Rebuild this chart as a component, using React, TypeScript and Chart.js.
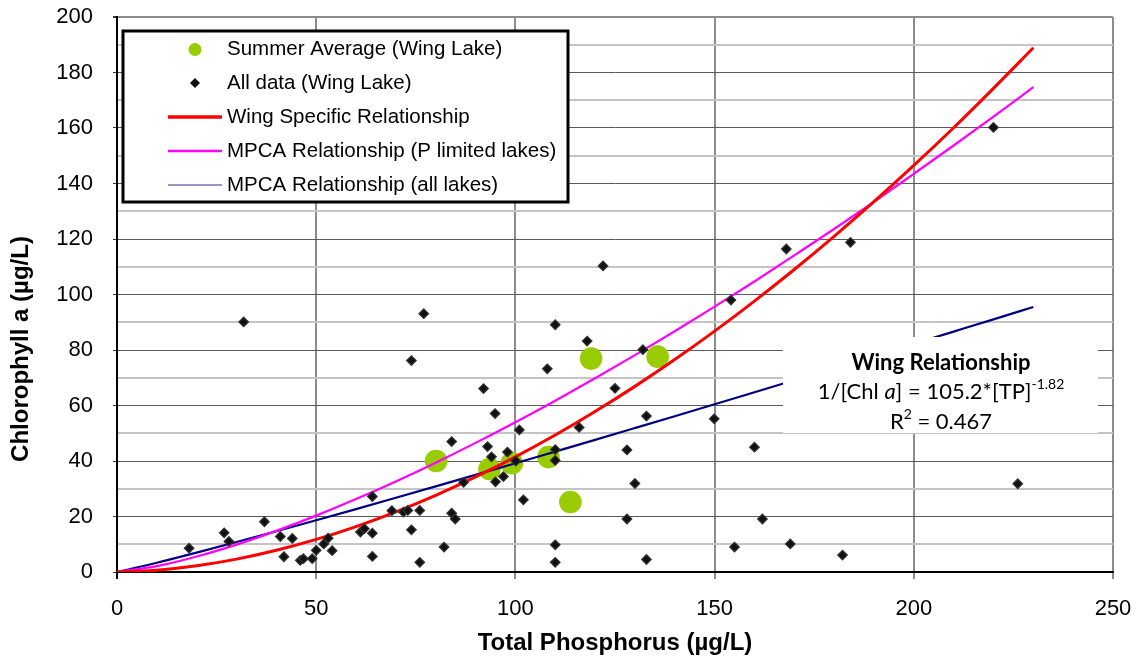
import React, { useEffect, useRef } from 'react';
import { Chart, registerables } from 'chart.js';

Chart.register(...registerables);

// ---------- data ----------
const summerTP = [80.1, 93.5, 99.1, 108.3, 113.8, 119.0, 135.7];
const summerChl = [40.0, 37.1, 39.2, 41.4, 25.2, 76.9, 77.6];

const allTP = [
  18.1, 26.9, 28.1, 31.8, 37.0, 41.0, 41.9, 44.0, 46.0, 46.8, 49.0, 50.0, 51.9, 53.0, 54.0,
  61.1, 62.1, 64.1, 64.1, 64.1, 69.0, 71.9, 73.0, 73.9, 73.9, 76.0, 76.0, 77.0, 82.1, 84.0,
  84.0, 84.9, 87.0, 92.0, 93.0, 94.0, 94.9, 95.0, 97.0, 98.0, 100.1, 101.0, 102.0, 108.0, 110.0,
  110.0, 110.0, 110.0, 110.0, 116.0, 118.0, 122.0, 125.0, 128.0, 128.0, 130.0, 132.0, 132.9, 132.9, 149.9,
  154.1, 155.0, 160.0, 162.0, 168.0, 169.0, 182.1, 184.1, 220.0, 226.1,
];
const allChl = [
  8.6, 14.1, 11.0, 90.1, 18.1, 12.8, 5.5, 12.1, 4.2, 4.8, 4.8, 7.8, 10.1, 12.2, 7.7,
  14.4, 15.6, 14.0, 27.2, 5.6, 22.1, 21.6, 22.2, 15.2, 76.2, 22.2, 3.5, 93.1, 9.0, 47.0,
  21.2, 19.1, 32.3, 66.1, 45.2, 41.5, 57.1, 32.5, 34.4, 43.2, 40.0, 51.2, 26.0, 73.2, 89.1,
  44.1, 40.2, 9.8, 3.5, 52.1, 83.2, 110.3, 66.2, 44.0, 19.1, 31.9, 80.1, 56.2, 4.5, 55.2,
  98.0, 9.0, 45.0, 19.1, 116.4, 10.1, 6.1, 118.8, 160.2, 31.8,
];

const curveTP = [0, 10, 20, 30, 40, 50, 60, 70, 80, 90, 100, 110, 120, 130, 140, 150, 160, 170, 180, 190, 200, 210, 220, 230];
const wingChl = [0, 0.63, 2.22, 4.64, 7.83, 11.75, 16.37, 21.68, 27.64, 34.25, 41.49, 49.35, 57.83, 66.89, 76.55, 86.79, 97.62, 109.0, 120.96, 133.44, 146.5, 160.1, 174.3, 188.9];
const mpcaPChl = [0, 2.1, 5.58, 9.88, 14.83, 20.31, 26.27, 32.65, 39.41, 46.53, 53.98, 61.74, 69.8, 78.14, 86.75, 95.61, 104.7, 114.1, 123.6, 133.4, 143.5, 153.7, 164.1, 174.7];
const mpcaAllChl = [0, 3.33, 7.0, 10.8, 14.69, 18.65, 22.67, 26.74, 30.85, 35.0, 39.17, 43.38, 47.6, 51.87, 56.15, 60.45, 64.78, 69.12, 73.48, 77.85, 82.23, 86.63, 91.04, 95.5];

const seriesNames = [
  'Summer Average (Wing Lake)',
  'All data (Wing Lake)',
  'Wing Specific Relationship',
  'MPCA Relationship (P limited lakes)',
  'MPCA Relationship (all lakes)',
];
const xTitle = 'Total Phosphorus (µg/L)';
const yTitle = 'Chlorophyll a (µg/L)';
const xMax = 250;
const yMax = 200;

const GREEN = '#99CC00';
const RED = '#FF0000';
const MAGENTA = '#FF00FF';
const NAVY = '#000080';
const SANS = "'Liberation Sans', Arial, sans-serif";
const CAL = "Lato, 'Noto Sans', sans-serif";

const pts = (xs: number[], ys: number[]) => xs.map((x, i) => ({ x, y: ys[i] }));

const overlayPlugin = {
  id: 'overlay',
  afterDraw(chart: any) {
    const ctx: CanvasRenderingContext2D = chart.ctx;
    ctx.save();

    // --- annotation box ---
    ctx.fillStyle = '#ffffff';
    ctx.fillRect(783, 337, 315, 96);
    ctx.fillStyle = '#000';
    ctx.textBaseline = 'middle';
    ctx.textAlign = 'center';
    ctx.font = `bold 22px ${CAL}`;
    ctx.fillText('Wing Relationship', 941, 363);

    const segs: { t: string; f: string; dy: number }[] = [
      { t: '1/[Chl ', f: `22px ${CAL}`, dy: 0 },
      { t: 'a', f: `italic 22px ${CAL}`, dy: 0 },
      { t: '] = 105.2*[TP]', f: `22px ${CAL}`, dy: 0 },
      { t: '-1.82', f: `14px ${CAL}`, dy: -8 },
    ];
    ctx.textAlign = 'left';
    let total = 0;
    segs.forEach((s) => { ctx.font = s.f; total += ctx.measureText(s.t).width; });
    let x = 941 - total / 2;
    segs.forEach((s) => {
      ctx.font = s.f;
      ctx.fillText(s.t, x, 392 + s.dy);
      x += ctx.measureText(s.t).width;
    });

    const segs3: { t: string; f: string; dy: number }[] = [
      { t: 'R', f: `22px ${CAL}`, dy: 0 },
      { t: '2', f: `14px ${CAL}`, dy: -8 },
      { t: ' = 0.467', f: `22px ${CAL}`, dy: 0 },
    ];
    total = 0;
    segs3.forEach((s) => { ctx.font = s.f; total += ctx.measureText(s.t).width; });
    x = 941 - total / 2;
    segs3.forEach((s) => {
      ctx.font = s.f;
      ctx.fillText(s.t, x, 422 + s.dy);
      x += ctx.measureText(s.t).width;
    });

    // --- legend ---
    ctx.fillStyle = '#ffffff';
    ctx.fillRect(123, 31, 445, 171);
    ctx.strokeStyle = '#000';
    ctx.lineWidth = 3;
    ctx.strokeRect(123, 31, 445, 171);
    const rows = [49.5, 83, 117, 151, 185];
    const mx = 195;
    ctx.fillStyle = GREEN;
    ctx.beginPath();
    ctx.arc(mx, rows[0], 6.5, 0, Math.PI * 2);
    ctx.fill();
    ctx.fillStyle = '#111';
    ctx.beginPath();
    ctx.moveTo(mx, rows[1] - 5);
    ctx.lineTo(mx + 5, rows[1]);
    ctx.lineTo(mx, rows[1] + 5);
    ctx.lineTo(mx - 5, rows[1]);
    ctx.closePath();
    ctx.fill();
    const lineSample = (y: number, c: string, w: number) => {
      ctx.strokeStyle = c;
      ctx.lineWidth = w;
      ctx.beginPath();
      ctx.moveTo(168, y);
      ctx.lineTo(222, y);
      ctx.stroke();
    };
    lineSample(rows[2], RED, 3.5);
    lineSample(rows[3], MAGENTA, 2.5);
    lineSample(rows[4], '#7474b4', 1.5);
    ctx.fillStyle = '#000';
    ctx.font = `20.5px ${SANS}`;
    ctx.textAlign = 'left';
    ctx.textBaseline = 'middle';
    seriesNames.forEach((n, i) => ctx.fillText(n, 227, rows[i]));

    // --- axis titles ---
    const ca = chart.chartArea;
    ctx.font = `bold 24px ${SANS}`;
    ctx.textAlign = 'center';
    ctx.textBaseline = 'middle';
    ctx.fillText(xTitle, (ca.left + ca.right) / 2, 643);
    ctx.translate(21, 349);
    ctx.rotate(-Math.PI / 2);
    ctx.fillText(yTitle, 0, 0);
    ctx.restore();
  },
};

export default function App() {
  const ref = useRef<HTMLCanvasElement>(null);
  useEffect(() => {
    if (!ref.current) return;
    Chart.defaults.font.family = SANS;
    Chart.defaults.color = '#000';
    const chart = new Chart(ref.current, {
      type: 'scatter',
      data: {
        datasets: [
          {
            label: seriesNames[1],
            data: pts(allTP, allChl),
            pointStyle: 'rectRot',
            pointRadius: 4.8,
            backgroundColor: '#111',
            borderColor: '#333',
            borderWidth: 1.2,
            order: 0,
          },
          {
            label: seriesNames[2],
            data: pts(curveTP, wingChl),
            showLine: true,
            pointRadius: 0,
            borderColor: RED,
            borderWidth: 3,
            cubicInterpolationMode: 'monotone',
            order: 1,
          },
          {
            label: seriesNames[3],
            data: pts(curveTP, mpcaPChl),
            showLine: true,
            pointRadius: 0,
            borderColor: MAGENTA,
            borderWidth: 2.2,
            cubicInterpolationMode: 'monotone',
            order: 2,
          },
          {
            label: seriesNames[4],
            data: pts(curveTP, mpcaAllChl),
            showLine: true,
            pointRadius: 0,
            borderColor: NAVY,
            borderWidth: 2.2,
            cubicInterpolationMode: 'monotone',
            order: 3,
          },
          {
            label: seriesNames[0],
            data: pts(summerTP, summerChl),
            pointStyle: 'circle',
            pointRadius: 11.3,
            backgroundColor: GREEN,
            borderWidth: 0,
            order: 4,
          },
        ],
      },
      options: {
        responsive: false,
        animation: false,
        devicePixelRatio: 1,
        layout: { padding: { left: 0, top: 17, right: 24, bottom: 0 } },
        plugins: { legend: { display: false }, tooltip: { enabled: false } },
        scales: {
          x: {
            type: 'linear',
            min: 0,
            max: xMax,
            afterFit: (s: any) => { s.height = 88; s.paddingLeft = 0; s.paddingRight = 0; },
            ticks: { stepSize: 50, padding: 17, font: { size: 22 }, color: '#000' },
            grid: {
              color: '#8c8c8c',
              lineWidth: 2,
              tickLength: 7,
              tickColor: (c: any) => (c.tick && c.tick.value === 0 ? '#000' : '#8c8c8c'),
            },
            border: { display: true, color: '#000', width: 2 },
          },
          y: {
            type: 'linear',
            min: 0,
            max: yMax,
            afterFit: (s: any) => { s.width = 117; s.paddingTop = 0; s.paddingBottom = 0; },
            ticks: {
              stepSize: 10,
              autoSkip: false,
              padding: 20,
              font: { size: 22 },
              color: '#000',
              callback: (v: any) => (Number(v) % 20 === 0 ? String(v) : ''),
            },
            grid: {
              color: (c: any) => {
                const v = c.tick ? c.tick.value : 0;
                if (v === yMax) return '#8c8c8c';
                return v % 20 === 0 ? '#5a5a5a' : '#c4c4c4';
              },
              lineWidth: (c: any) => {
                const v = c.tick ? c.tick.value : 0;
                if (v === yMax) return 2;
                return v % 20 === 0 ? 1 : 2;
              },
              tickLength: 4,
              tickColor: (c: any) => (c.tick && c.tick.value % 20 === 0 ? '#333' : 'rgba(0,0,0,0)'),
            },
            border: { display: true, color: '#000', width: 2 },
          },
        },
      },
      plugins: [overlayPlugin],
    } as any);
    return () => chart.destroy();
  }, []);

  return (
    <div style={{ position: 'fixed', left: 0, top: 0, width: 1137, height: 660, background: '#fff' }}>
      <canvas ref={ref} width={1137} height={660} style={{ display: 'block' }} />
    </div>
  );
}
